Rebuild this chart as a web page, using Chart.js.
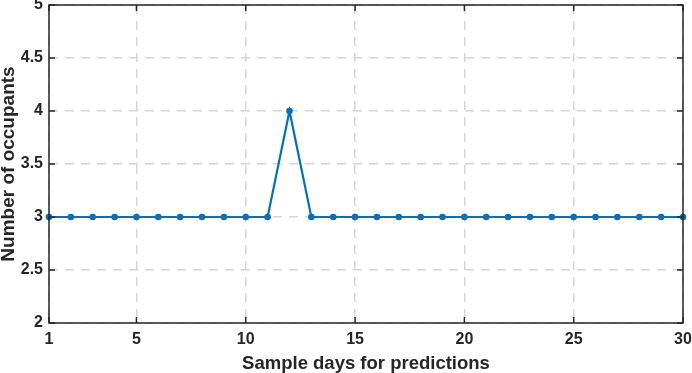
<!DOCTYPE html>
<html>
<head>
<meta charset="utf-8">
<script src="https://cdn.jsdelivr.net/npm/chart.js@4/dist/chart.umd.min.js"></script>
<style>
html,body{margin:0;padding:0;background:#fff;}
#wrap{width:692px;height:373px;position:relative;}
</style>
</head>
<body>
<div id="wrap"><canvas id="c" width="692" height="373"></canvas></div>
<script>
const days = [1,2,3,4,5,6,7,8,9,10,11,12,13,14,15,16,17,18,19,20,21,22,23,24,25,26,27,28,29,30];
const occupants = [3,3,3,3,3,3,3,3,3,3,3,4,3,3,3,3,3,3,3,3,3,3,3,3,3,3,3,3,3,3];
const xTicks = [1,5,10,15,20,25,30];
const yTicks = [2,2.5,3,3.5,4,4.5,5];
const xTitle = 'Sample days for predictions';
const yTitle = 'Number of occupants';

const font = {family: "'Liberation Sans', Arial, sans-serif", size: 16, weight: 'bold'};
const xTitleFont = {family: "'Liberation Sans', Arial, sans-serif", size: 18.5, weight: 'bold', lineHeight: 1};
const yTitleFont = {family: "'Liberation Sans', Arial, sans-serif", size: 19, weight: 'bold', lineHeight: 0.9};

const boxPlugin = {
  id: 'box',
  afterDraw(chart) {
    const {ctx, chartArea: a, scales} = chart;
    ctx.save();
    ctx.strokeStyle = '#262626';
    ctx.lineWidth = 1.5;
    ctx.setLineDash([]);
    ctx.strokeRect(a.left, a.top, a.right - a.left, a.bottom - a.top);
    ctx.beginPath();
    xTicks.forEach(v => {
      const px = scales.x.getPixelForValue(v);
      ctx.moveTo(px, a.bottom); ctx.lineTo(px, a.bottom - 6);
      ctx.moveTo(px, a.top); ctx.lineTo(px, a.top + 6);
    });
    yTicks.forEach(v => {
      const py = scales.y.getPixelForValue(v);
      ctx.moveTo(a.left, py); ctx.lineTo(a.left + 6, py);
      ctx.moveTo(a.right, py); ctx.lineTo(a.right - 6, py);
    });
    ctx.stroke();
    ctx.restore();
  }
};

new Chart(document.getElementById('c'), {
  type: 'line',
  data: {
    datasets: [{
      data: days.map((d, i) => ({x: d, y: occupants[i]})),
      borderColor: '#0072BD',
      backgroundColor: '#0072BD',
      borderWidth: 2.2,
      pointRadius: 3.3,
      pointBorderWidth: 0,
      tension: 0,
      clip: false
    }]
  },
  options: {
    responsive: false,
    animation: false,
    devicePixelRatio: 1,
    layout: {padding: {top: 5, right: 9, left: 0, bottom: 0}},
    plugins: {legend: {display: false}, tooltip: {enabled: false}},
    scales: {
      x: {
        type: 'linear', min: 1, max: 30,
        afterBuildTicks(s) { s.ticks = xTicks.map(v => ({value: v})); },
        afterFit(s) { s.height = 50; s.paddingLeft = 0; s.paddingRight = 0; },
        grid: {color: '#d6d6d6', lineWidth: 1.5, drawTicks: false},
        border: {display: false, dash: [9, 7]},
        ticks: {color: '#262626', font: font, padding: 7, maxRotation: 0, autoSkip: false,
                callback: v => String(v)},
        title: {display: true, text: xTitle, color: '#262626', font: xTitleFont, padding: {top: 0, bottom: 0}}
      },
      y: {
        type: 'linear', min: 2, max: 5,
        afterBuildTicks(s) { s.ticks = yTicks.map(v => ({value: v})); },
        afterFit(s) { s.width = 49; s.paddingTop = 0; s.paddingBottom = 0; },
        grid: {color: '#d6d6d6', lineWidth: 1.5, drawTicks: false},
        border: {display: false, dash: [9, 7]},
        ticks: {color: '#262626', font: font, padding: 6, autoSkip: false,
                callback: v => String(v)},
        title: {display: true, text: yTitle, color: '#262626', font: yTitleFont, padding: {top: 0, bottom: 0}}
      }
    }
  },
  plugins: [boxPlugin]
});
</script>
</body>
</html>
